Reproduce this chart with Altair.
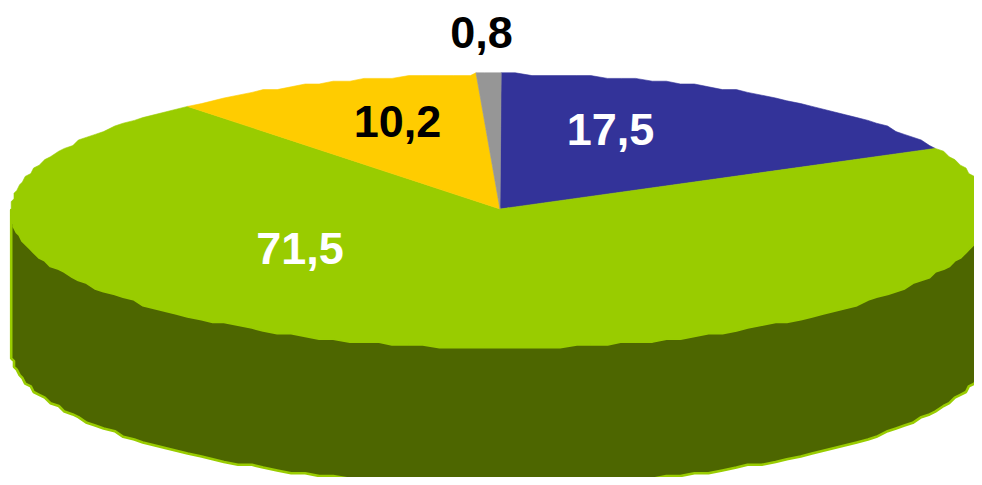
import math
import altair as alt

names = ["a", "b", "c", "d"]
shares = [17.5, 71.5, 10.2, 0.8]
labels = ["17,5", "71,5", "10,2", "0,8"]
colors = ["#333399", "#99CC00", "#FFCC00", "#969696"]
label_colors = ["#FFFFFF", "#FFFFFF", "#000000", "#000000"]
label_lon = [610.5, 300, 397.5, 481.5]
label_lat = [145, 264, 137, 48]

wall_fill = "#4D6600"
rim = "#99CC00"
CX, CY, RX, RY, DEPTH = 500, 210.5, 489, 136.5, 138
APEX = [500, 209]
GRID = 2.8
STEP = 1.8


def snap(v):
    return round(v / GRID) * GRID


def rim_point(deg, dy=0):
    t = math.radians(deg)
    return [snap(CX + RX * math.sin(t)), snap(CY - RY * math.cos(t) + dy)]


def sweep(a, b, dy=0):
    pts = [rim_point(a, dy)]
    k = math.floor(a / STEP) + 1
    while k * STEP < b:
        pts.append(rim_point(k * STEP, dy))
        k += 1
    pts.append(rim_point(b, dy))
    return pts


def feature(name, ring):
    ring = ring + [ring[0]]
    return {
        "type": "Feature",
        "properties": {"name": name},
        "geometry": {"type": "Polygon", "coordinates": [ring]},
    }


slices = []
start = 0.0
for n, s in zip(names, shares):
    end = start + s * 3.6
    slices.append(feature(n, [APEX] + sweep(start, end)))
    start = end

wall_ring = sweep(90, 270, 0) + sweep(90, 270, DEPTH)[::-1]
wall = [feature("wall", wall_ring)]

proj = alt.Projection(type="identity", scale=1, translate=[-8, -8])

wall_layer = alt.Chart(alt.Data(values=wall)).mark_geoshape(
    fill=wall_fill, stroke=rim, strokeWidth=2.6, strokeJoin="round"
).project(**proj.to_dict())

top_layer = alt.Chart(alt.Data(values=slices)).mark_geoshape(strokeWidth=0.6).encode(
    fill=alt.Fill("properties.name:N", scale=alt.Scale(domain=names, range=colors), legend=None),
    stroke=alt.Stroke("properties.name:N", scale=alt.Scale(domain=names, range=colors), legend=None),
).project(**proj.to_dict())

text_rows = [
    {"t": t, "lon": x, "lat": y, "c": c}
    for t, x, y, c in zip(labels, label_lon, label_lat, label_colors)
]
text_layer = alt.Chart(alt.Data(values=text_rows)).mark_text(
    font="Liberation Sans", fontWeight="bold", fontSize=45, align="center", baseline="alphabetic"
).encode(
    longitude="lon:Q", latitude="lat:Q", text="t:N",
    color=alt.Color("c:N", scale=None),
).project(**proj.to_dict())

chart = alt.layer(wall_layer, top_layer, text_layer).properties(
    width=966, height=469, padding=0, autosize=alt.AutoSizeParams(type="none")
).configure_view(stroke=None)

chart.save("out.html", embed_options={"renderer": "svg", "actions": False})
